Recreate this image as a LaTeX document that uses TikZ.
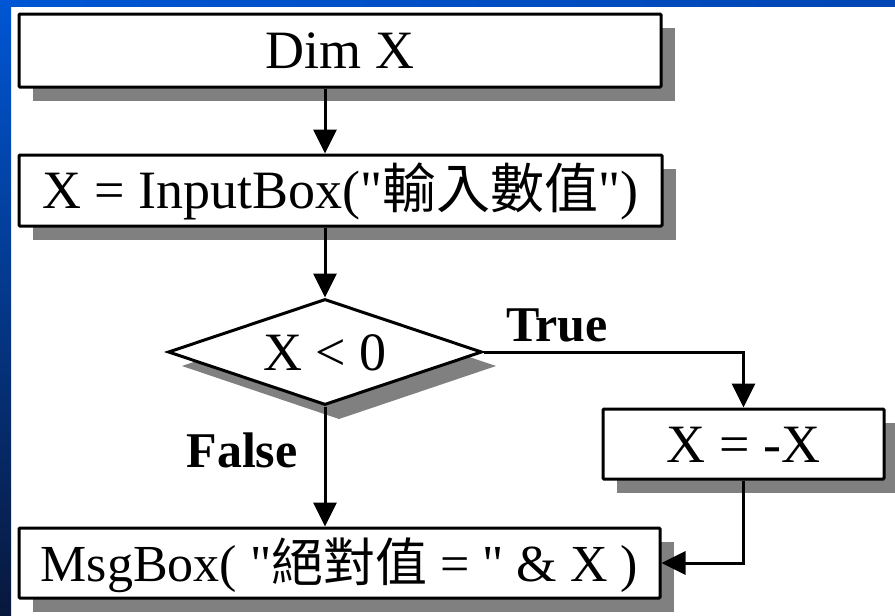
\documentclass[tikz,border=0pt]{standalone}
\usepackage{fontspec}
\setmainfont{Liberation Serif}[Ligatures=TeXOff]
\newfontfamily\cjk{Noto Sans CJK TC}
\usetikzlibrary{shapes.geometric,arrows.meta}

\definecolor{stripTop}{RGB}{0,86,212}
\definecolor{stripEnd}{RGB}{0,70,180}
\definecolor{stripBottom}{RGB}{8,24,60}
\definecolor{shadowgray}{RGB}{128,128,128}

\tikzset{
  flowbox/.style={draw=black, line width=3pt, fill=white, rectangle,
    rounded corners=1pt, inner sep=0pt, text height=36pt, text depth=0pt,
    font=\fontsize{54}{60}\selectfont},
  decision/.style={draw=black, line width=3pt, fill=white, diamond,
    aspect=2.96, inner sep=0pt},
  plaintext/.style={inner sep=0pt, text height=36pt, text depth=0pt,
    font=\fontsize{54}{60}\selectfont},
  boxshadow/.style={fill=shadowgray, draw=none},
  flow/.style={line width=3pt, -{Triangle[length=24pt,width=23pt]}},
  branch/.style={font=\bfseries\fontsize{50}{56}\selectfont, anchor=base, inner sep=0pt},
}

\begin{document}
\begin{tikzpicture}[x=1pt, y=-1pt]
  % page area
  \useasboundingbox (0,0) rectangle (895,616);
  \fill[white] (0,0) rectangle (895,616);
  % slide border strips
  \shade[left color=stripTop, right color=stripEnd] (0,0) rectangle (895,6);
  \shade[top color=stripTop, bottom color=stripBottom] (0,0) rectangle (11,616);

  % drop shadows
  \fill[boxshadow] (33,28) rectangle (675,101);
  \fill[boxshadow] (33,169) rectangle (676,240);
  \fill[boxshadow] (182,366) -- (339,313) -- (496,366) -- (339,419) -- cycle;
  \fill[boxshadow] (617,423) rectangle (898,493);
  \fill[boxshadow] (33,542) rectangle (674,612);

  % flowchart steps
  \node[flowbox, minimum width=642pt, minimum height=73pt] (dim) at (340,50.5) {Dim X};
  \node[flowbox, minimum width=643pt, minimum height=71pt] (inp) at (340.5,190.5)
    {X = InputBox("{\cjk 輸入數值}")};
  \node[decision, minimum width=314pt, minimum height=106pt] (test) at (325,352) {};
  \node[plaintext] (testtext) at (test.center) {X < 0};
  \node[flowbox, minimum width=281pt, minimum height=70pt] (neg) at (743.5,444) {X = -X};
  \node[flowbox, minimum width=641pt, minimum height=70pt,
        font=\fontsize{52}{58}\selectfont] (msg) at (339.5,563)
    {MsgBox( "{\cjk 絕對值} = " \& X )};

  % connectors
  \draw[flow] (dim.south -| test.north) -- (inp.north -| test.north);
  \draw[flow] (inp.south -| test.north) -- (test.north);
  \draw[flow] (test.east) -| (neg.north);
  \draw[flow] (test.south) -- (test.south |- msg.north);
  \draw[flow] (neg.south) |- (msg.east);

  % branch labels
  \node[branch] (tlabel) at (557,341) {True};
  \node[branch] (flabel) at (242,467) {False};
\end{tikzpicture}
\end{document}
